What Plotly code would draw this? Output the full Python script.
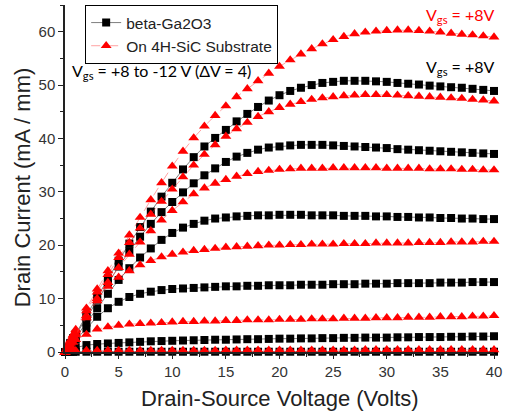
import plotly.graph_objects as go

# Drain-source voltage sweep (V)
VDS = [0, 0.25, 0.5, 0.75, 1, 2, 3, 4, 5, 6, 7, 8, 9, 10, 11, 12, 13, 14, 15, 16, 17, 18, 19, 20,
       21, 22, 23, 24, 25, 26, 27, 28, 29, 30, 31, 32, 33, 34, 35, 36, 37, 38, 39, 40]

# beta-Ga2O3 (black squares), Vgs = +8, +4, 0, -4, -8, -12 V
GA_P8 = [0, 0.85, 1.7, 2.6, 3.4, 6.9, 10.4, 13.8, 17.1, 20.3, 23.4, 26.3, 29.1, 31.7, 34.2, 36.5, 38.5, 40.1,
         41.6, 43.2, 44.6, 45.9, 47.1, 48.1, 48.9, 49.5, 50.0, 50.4, 50.6, 50.8, 50.8, 50.8, 50.7, 50.6,
         50.4, 50.25, 50.1, 49.9, 49.75, 49.6, 49.5, 49.3, 49.1, 48.9]
GA_P4 = [0, 0.8, 1.6, 2.4, 3.2, 6.5, 9.8, 13.0, 16.0, 18.9, 21.6, 24.0, 26.2, 28.1, 29.9, 31.6, 33.1, 34.4,
         35.6, 36.6, 37.3, 37.9, 38.3, 38.5, 38.7, 38.8, 38.8, 38.8, 38.7, 38.6, 38.5, 38.4, 38.3, 38.2,
         38.0, 37.9, 37.8, 37.7, 37.6, 37.5, 37.4, 37.3, 37.2, 37.1]
GA_0 = [0, 0.7, 1.4, 2.1, 2.8, 5.5, 8.2, 10.9, 13.5, 15.7, 17.7, 19.4, 21.0, 22.3, 23.3, 24.0, 24.6, 25.0,
        25.2, 25.4, 25.5, 25.6, 25.6, 25.7, 25.7, 25.7, 25.6, 25.6, 25.6, 25.5, 25.5, 25.5, 25.4, 25.4,
        25.3, 25.3, 25.2, 25.2, 25.1, 25.1, 25.0, 25.0, 24.9, 24.9]
GA_M4 = [0, 0.6, 1.2, 1.7, 2.3, 4.4, 6.6, 8.2, 9.4, 10.3, 10.9, 11.3, 11.6, 11.8, 11.9, 12.0, 12.1, 12.2,
         12.3, 12.3, 12.4, 12.4, 12.5, 12.5, 12.5, 12.6, 12.6, 12.6, 12.7, 12.7, 12.7, 12.8, 12.8, 12.8,
         12.9, 12.9, 12.9, 12.9, 13.0, 13.0, 13.0, 13.1, 13.1, 13.1]
GA_M8 = [0, 0.2, 0.4, 0.6, 0.8, 1.3, 1.5, 1.6, 1.7, 1.8, 1.9, 2.0, 2.05, 2.1, 2.15, 2.2, 2.25, 2.3,
         2.3, 2.35, 2.4, 2.4, 2.45, 2.5, 2.5, 2.55, 2.55, 2.6, 2.6, 2.65, 2.65, 2.7, 2.7, 2.7,
         2.75, 2.75, 2.8, 2.8, 2.8, 2.85, 2.85, 2.9, 2.9, 2.95]
GA_M12 = [0, 0.02, 0.03, 0.04, 0.05, 0.05, 0.05, 0.05, 0.05, 0.05, 0.05, 0.05, 0.05, 0.05, 0.05, 0.05,
          0.05, 0.05, 0.05, 0.05, 0.05, 0.05, 0.05, 0.05, 0.05, 0.05, 0.05, 0.05, 0.05, 0.05, 0.05,
          0.05, 0.05, 0.05, 0.05, 0.05, 0.05, 0.05, 0.05, 0.05, 0.05, 0.05, 0.05, 0.05]

# On 4H-SiC substrate (red triangles), Vgs = +8, +4, 0, -4, -8, -12 V
SIC_P8 = [0, 1.1, 2.2, 3.2, 4.2, 8.2, 11.8, 15.2, 18.5, 21.9, 25.2, 28.5, 31.7, 34.8, 37.6, 40.1, 42.3, 44.3,
          46.1, 47.8, 49.3, 50.8, 52.2, 53.5, 54.7, 55.8, 56.8, 57.7, 58.5, 59.1, 59.6, 59.9, 60.1, 60.2,
          60.3, 60.3, 60.2, 60.1, 59.9, 59.7, 59.5, 59.4, 59.2, 59.0]
SIC_P4 = [0, 1.0, 2.0, 3.0, 3.9, 7.7, 11.2, 14.5, 17.7, 20.5, 23.2, 25.8, 28.2, 30.5, 32.8, 35.0, 37.0, 38.8,
          40.4, 41.8, 43.0, 44.1, 45.0, 45.8, 46.4, 46.9, 47.3, 47.6, 47.8, 48.0, 48.1, 48.2, 48.2, 48.2,
          48.1, 48.0, 47.9, 47.8, 47.7, 47.6, 47.5, 47.3, 47.2, 47.0]
SIC_0 = [0, 0.9, 1.8, 2.6, 3.4, 6.8, 10.0, 13.0, 15.8, 18.3, 20.6, 22.7, 24.7, 26.5, 28.1, 29.6, 30.7, 31.6,
         32.3, 32.9, 33.4, 33.8, 34.0, 34.2, 34.3, 34.4, 34.4, 34.4, 34.5, 34.5, 34.5, 34.5, 34.5, 34.4,
         34.4, 34.4, 34.4, 34.3, 34.3, 34.3, 34.2, 34.2, 34.1, 34.1]
SIC_M4 = [0, 0.8, 1.6, 2.4, 3.2, 6.4, 9.6, 12.3, 14.0, 15.2, 16.3, 17.1, 17.8, 18.3, 18.7, 19.0, 19.2, 19.4,
          19.6, 19.7, 19.8, 19.9, 20.0, 20.0, 20.1, 20.1, 20.2, 20.2, 20.2, 20.3, 20.3, 20.3, 20.4, 20.4,
          20.4, 20.4, 20.5, 20.5, 20.5, 20.6, 20.6, 20.6, 20.7, 20.7]
SIC_M8 = [0, 0.6, 1.2, 1.8, 2.3, 3.3, 4.3, 4.7, 5.0, 5.2, 5.3, 5.4, 5.5, 5.6, 5.7, 5.7, 5.8, 5.8,
          5.9, 5.9, 6.0, 6.0, 6.0, 6.1, 6.1, 6.1, 6.2, 6.2, 6.2, 6.3, 6.3, 6.3, 6.4, 6.4,
          6.4, 6.5, 6.5, 6.5, 6.6, 6.6, 6.6, 6.7, 6.7, 6.8]
SIC_M12 = [0, 0.1, 0.15, 0.2, 0.25, 0.3, 0.3, 0.3, 0.3, 0.3, 0.3, 0.3, 0.3, 0.3, 0.3, 0.3, 0.3, 0.3,
           0.35, 0.35, 0.35, 0.35, 0.35, 0.35, 0.35, 0.35, 0.35, 0.35, 0.35, 0.35, 0.35, 0.4, 0.4, 0.4,
           0.4, 0.4, 0.4, 0.4, 0.4, 0.4, 0.4, 0.4, 0.4, 0.4]

GA_SERIES = [GA_P8, GA_P4, GA_0, GA_M4, GA_M8, GA_M12]
SIC_SERIES = [SIC_P8, SIC_P4, SIC_0, SIC_M4, SIC_M8, SIC_M12]

X_TITLE = "Drain-Source Voltage (Volts)"
Y_TITLE = "Drain Current (mA / mm)"

fig = go.Figure()

for i, ys in enumerate(GA_SERIES):
    fig.add_trace(go.Scatter(
        x=VDS, y=ys, mode="lines+markers", name="beta-Ga2O3",
        legendgroup="ga", showlegend=(i == 0), cliponaxis=False,
        line=dict(color="rgba(40,40,40,0.75)", width=0.8),
        marker=dict(symbol="square", size=8, color="black"),
    ))

for i, ys in enumerate(SIC_SERIES):
    fig.add_trace(go.Scatter(
        x=VDS, y=ys, mode="lines+markers", name="On 4H-SiC Substrate",
        legendgroup="sic", showlegend=(i == 0), cliponaxis=False,
        line=dict(color="rgba(255,60,60,0.6)", width=0.8, dash="dash"),
        marker=dict(symbol="triangle-up", size=9.5, color="red"),
    ))

axis_font = dict(family="Liberation Sans, Arial, sans-serif", size=15, color="#333333")
title_font = dict(family="Liberation Sans, Arial, sans-serif", size=22, color="#222222")

fig.update_layout(
    width=510, height=416,
    margin=dict(l=65, r=16, t=5, b=64),
    paper_bgcolor="white", plot_bgcolor="white",
    showlegend=True,
    legend=dict(
        x=0.047, y=1.0, xanchor="left", yanchor="top",
        bgcolor="white", bordercolor="black", borderwidth=1,
        font=dict(family="Liberation Sans, Arial, sans-serif", size=15.5, color="#222222"),
        itemwidth=30, tracegroupgap=0,
    ),
    xaxis=dict(
        range=[0, 40], showgrid=False, zeroline=False,
        showline=True, linecolor="#222222", linewidth=1.5,
        ticks="outside", ticklen=5, tickwidth=1.2, tickcolor="#222222",
        dtick=5, tick0=0, tickfont=axis_font,
        minor=dict(ticks="outside", ticklen=3, dtick=2.5, tickcolor="#222222", tickwidth=1),
    ),
    yaxis=dict(
        range=[0, 65], showgrid=False, zeroline=False,
        showline=True, linecolor="#222222", linewidth=1.5,
        ticks="outside", ticklen=5, tickwidth=1.2, tickcolor="#222222",
        dtick=10, tick0=0, tickfont=axis_font,
        minor=dict(ticks="outside", ticklen=3, dtick=5, tickcolor="#222222", tickwidth=1),
    ),
)

# Axis titles
fig.add_annotation(
    xref="paper", yref="paper", x=0.5, y=-0.1326, xanchor="center", yanchor="middle",
    text=X_TITLE, showarrow=False, font=title_font,
)
fig.add_annotation(
    xref="paper", yref="paper", x=-0.1, y=0.475, xanchor="center", yanchor="middle",
    text=Y_TITLE, showarrow=False, font=title_font, textangle=-90,
)

ann_font = "Lato, Open Sans, sans-serif"
fig.add_annotation(
    xref="paper", yref="paper", x=0.0117, y=0.807, xanchor="left", yanchor="middle",
    text="V<sub>gs</sub> = +8 to -12 V (ΔV = 4)", showarrow=False,
    font=dict(family=ann_font, size=16, color="black"),
)
fig.add_annotation(
    xref="paper", yref="paper", x=1.007, y=0.971, xanchor="right", yanchor="middle",
    text="V<sub>gs</sub> = +8V", showarrow=False,
    font=dict(family=ann_font, size=16, color="red"),
)
fig.add_annotation(
    xref="paper", yref="paper", x=1.007, y=0.821, xanchor="right", yanchor="middle",
    text="V<sub>gs</sub> = +8V", showarrow=False,
    font=dict(family=ann_font, size=16, color="black"),
)

fig.write_html("out.html")
